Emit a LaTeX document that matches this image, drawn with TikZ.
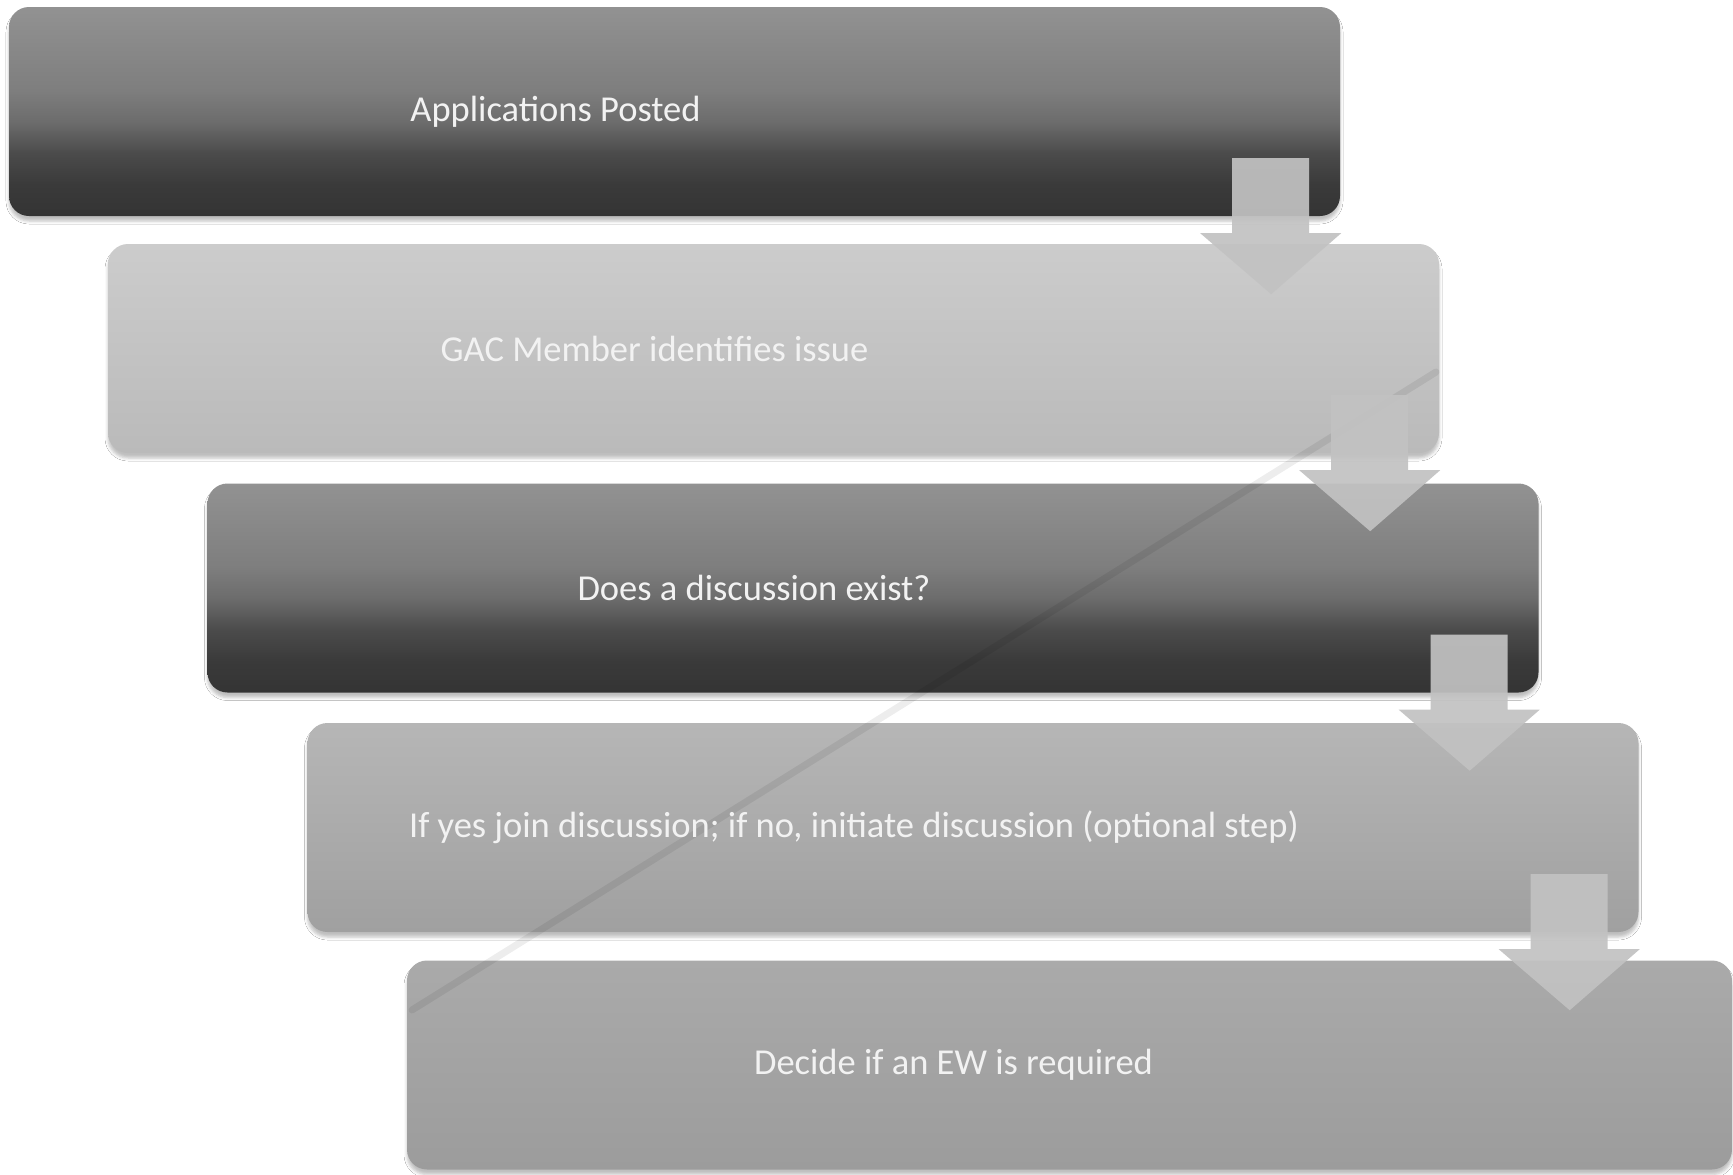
\documentclass[tikz,border=0pt]{standalone}
\usepackage{fontspec}
\setmainfont{Carlito}
\usetikzlibrary{calc,shadows.blur}

\definecolor{dA}{RGB}{52,52,52}
\definecolor{dB}{RGB}{58,58,58}
\definecolor{dC}{RGB}{75,75,75}
\definecolor{dD}{RGB}{108,108,108}
\definecolor{dE}{RGB}{126,126,126}
\definecolor{dF}{RGB}{146,146,146}
\definecolor{lA}{RGB}{186,186,186}
\definecolor{lB}{RGB}{204,204,204}
\definecolor{mA}{RGB}{160,160,160}
\definecolor{mB}{RGB}{182,182,182}
\definecolor{nA}{RGB}{156,156,156}
\definecolor{nB}{RGB}{170,170,170}
\definecolor{arrowgray}{RGB}{194,194,194}
\definecolor{lbltext}{RGB}{242,242,242}

\pgfdeclareverticalshading{darkbox}{100bp}{color(0bp)=(dA); color(25bp)=(dA); color(32.5bp)=(dB); color(40bp)=(dC); color(47.5bp)=(dD); color(55bp)=(dE); color(75bp)=(dF); color(100bp)=(dF)}
\pgfdeclareverticalshading{lightbox}{100bp}{color(0bp)=(lA); color(25bp)=(lA); color(75bp)=(lB); color(100bp)=(lB)}
\pgfdeclareverticalshading{midbox}{100bp}{color(0bp)=(mA); color(25bp)=(mA); color(75bp)=(mB); color(100bp)=(mB)}
\pgfdeclareverticalshading{lowbox}{100bp}{color(0bp)=(nA); color(25bp)=(nA); color(75bp)=(nB); color(100bp)=(nB)}

\newcommand{\flowdown}[1]{%
  \fill[flow] ($(#1.south east)+(-108,-58)$) -- ($(#1.south east)+(-31,-58)$)
    -- ($(#1.south east)+(-31,17)$) -- ($(#1.south east)+(1,17)$)
    -- ($(#1.south east)+(-69,78)$) -- ($(#1.south east)+(-140,17)$)
    -- ($(#1.south east)+(-108,17)$) -- cycle;}

\begin{document}
\begin{tikzpicture}[x=1pt,y=-1pt,
  box/.style={rounded corners=20pt, minimum width=1331pt, minimum height=209pt,
    inner sep=0pt, shade,
    blur shadow={shadow xshift=0pt, shadow yshift=-5pt, shadow blur radius=3pt, shadow opacity=25}},
  lbl/.style={font=\fontsize{36.5}{44}\selectfont, text=lbltext, inner sep=0pt},
  flow/.style={fill=arrowgray, fill opacity=0.92}]
\useasboundingbox (0,0) rectangle (1733,1175);
\fill[white] (0,0) rectangle (1733,1175);

\node[box, shading=darkbox]  (b1) at (674.5,111.5) {};
\node[box, shading=lightbox] (b2) at (773.5,348.5) {};
\node[box, shading=darkbox]  (b3) at (873,588) {};
\node[box, shading=midbox]   (b4) at (973,827.5) {};
\node[box, shading=lowbox, minimum width=1325pt] (b5) at (1069.5,1065) {};

\coordinate (s1) at (1436,372);
\coordinate (s2) at (412,1010);
\draw[black, opacity=0.07, line width=7pt, line cap=round] (s1) -- (s2);

\flowdown{b1}
\flowdown{b2}
\flowdown{b3}
\flowdown{b4}

\node[lbl] (t1) at ($(b1.center)+(-119,0)$) {Applications Posted};
\node[lbl] (t2) at ($(b2.center)+(-119,0)$) {GAC Member identifies issue};
\node[lbl] (t3) at ($(b3.center)+(-119,0)$) {Does a discussion exist?};
\node[lbl] (t4) at ($(b4.center)+(-119,0)$) {If yes join discussion; if no, initiate discussion (optional step)};
\node[lbl] (t5) at ($(b5.center)+(-116,0)$) {Decide if an EW is required};
\end{tikzpicture}
\end{document}
